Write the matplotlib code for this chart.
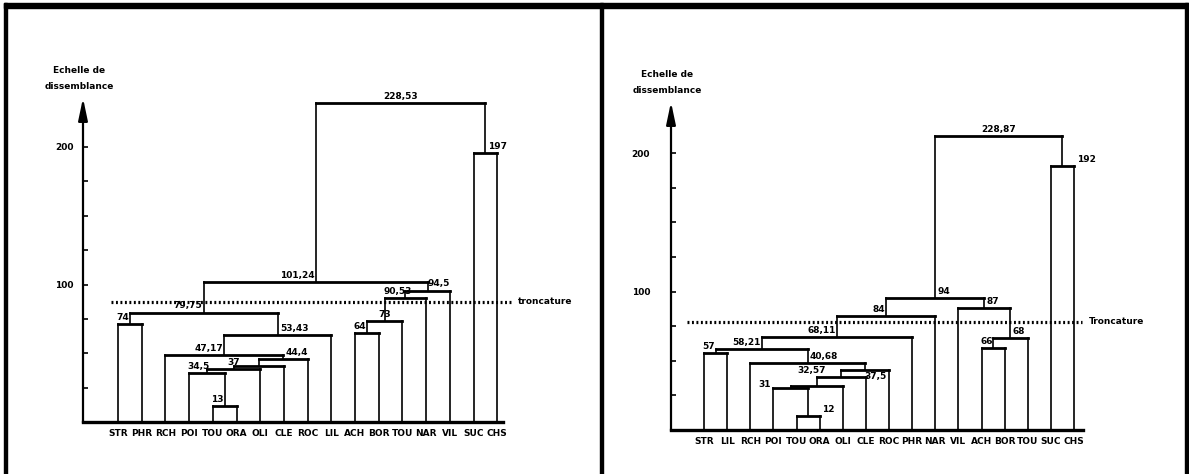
"""
Two hierarchical clustering dendrograms (scanned figure, French).
"""

import matplotlib.pyplot as plt
from matplotlib.patches import Rectangle

W, H = 1189, 474

# ---- left dendrogram -------------------------------------------------------
left_leaves = ["STR", "PHR", "RCH", "POI", "TOU", "ORA", "OLI", "CLE", "ROC",
               "LIL", "ACH", "BOR", "TOU", "NAR", "VIL", "SUC", "CHS"]
# merges refer to leaves (0..16) or to earlier merges (17, 18, ...)
left_merges = [(4, 5), (3, 17), (18, 6), (19, 7), (20, 8), (2, 21), (22, 9),
               (0, 1), (24, 23), (10, 11), (26, 12), (27, 13), (28, 14),
               (25, 29), (15, 16), (30, 31)]
left_heights = [11.7, 35.8, 38.7, 41.0, 46.0, 48.9, 63.5, 71.5, 79.6,
                65.0, 73.7, 90.0, 95.6, 101.5, 195.6, 232.0]
left_labels = ["13", "34,5", "37", "", "44,4", "47,17", "53,43", "74", "79,75",
               "64", "73", "90,53", "94,5", "101,24", "197", "228,53"]
left_cut = 87.3

# ---- right dendrogram ------------------------------------------------------
right_leaves = ["STR", "LIL", "RCH", "POI", "TOU", "ORA", "OLI", "CLE", "ROC",
                "PHR", "NAR", "VIL", "ACH", "BOR", "TOU", "SUC", "CHS"]
right_merges = [(4, 5), (3, 17), (18, 6), (19, 7), (20, 8), (2, 21), (0, 1),
                (23, 22), (24, 9), (25, 10), (12, 13), (27, 14), (11, 28),
                (26, 29), (15, 16), (30, 31)]
right_heights = [10.1, 30.5, 31.8, 38.0, 43.3, 48.4, 55.6, 58.5, 67.0,
                 82.3, 59.2, 66.4, 88.0, 95.3, 190.6, 212.0]
right_labels = ["12", "31", "", "32,57", "37,5", "40,68", "57", "58,21",
                "68,11", "84", "66", "68", "87", "94", "192", "228,87"]
right_cut = 78.0

axis_ticks = [25, 50, 75, 100, 125, 150, 175, 200]
axis_ticklabels = ["", "", "", "100", "", "", "", "200"]

# where each node label sits relative to its link (style only)
left_label_pos = ["l", "l", "c", "", "ri", "nl", "nr", "l", "nl",
                  "l", "c", "l", "ri", "nl", "re", "c"]
right_label_pos = ["ro", "lo", "", "lc", "rb", "nr", "l", "nl", "nl",
                   "nl", "l", "nr", "nr", "nr", "ro", "c"]

plt.rcParams["font.family"] = ["Liberation Sans Narrow", "DejaVu Sans"]
plt.rcParams["font.weight"] = "bold"

LABEL_STYLE = {
    "l": dict(ha="left", va="bottom", dx=-1, dy=1.5, at="left"),
    "lo": dict(ha="right", va="center", dx=-2, dy=2, at="left"),
    "lc": dict(ha="center", va="bottom", dx=-4, dy=1.5, at="left"),
    "c": dict(ha="center", va="bottom", dx=0, dy=1.5, at="node"),
    "nl": dict(ha="right", va="bottom", dx=-1, dy=1.5, at="node"),
    "nr": dict(ha="left", va="bottom", dx=1.5, dy=1.5, at="node"),
    "ri": dict(ha="right", va="bottom", dx=0, dy=1.5, at="right"),
    "re": dict(ha="center", va="bottom", dx=0, dy=1.5, at="right"),
    "ro": dict(ha="left", va="bottom", dx=2, dy=1.5, at="right"),
    "rb": dict(ha="right", va="top", dx=-2, dy=-1.5, at="right"),
}


def draw_panel(fig, box, leaf_px, px_per_unit, leaves, merges, heights,
               labels, label_pos, cut, cut_text, cut_span, tick_pad):
    x0, x1, ybase, ytop = box
    first, step = leaf_px
    ymax = (ybase - ytop) / px_per_unit
    ax = fig.add_axes([x0 / W, 1 - ybase / H, (x1 - x0) / W, (ybase - ytop) / H])
    xmin = (x0 - first) / step
    ax.set_xlim(xmin, (x1 - first) / step)
    ax.set_ylim(0, ymax)
    ax.patch.set_alpha(0)

    for side in ("top", "right"):
        ax.spines[side].set_visible(False)
    ax.spines["left"].set_linewidth(1.6)
    ax.spines["left"].set_bounds(0, ymax - 10)
    ax.spines["bottom"].set_linewidth(2.4)
    ax.annotate("", xy=(xmin, ymax), xytext=(xmin, ymax - 14),
                arrowprops=dict(arrowstyle="-|>,head_length=0.95,head_width=0.2",
                                color="k", lw=1.6, mutation_scale=14,
                                shrinkA=0, shrinkB=0),
                annotation_clip=False)
    ax.annotate("Echelle de\ndissemblance", xy=(xmin, ymax), xytext=(-3, 5),
                textcoords="offset points", ha="center", va="bottom",
                fontsize=6.5, linespacing=2.0, annotation_clip=False)

    ax.set_yticks(axis_ticks)
    ax.set_yticklabels(axis_ticklabels)
    ax.tick_params(axis="y", direction="in", length=3.5, width=1.2,
                   labelsize=6.5, pad=tick_pad)
    ax.set_xticks(range(len(leaves)))
    ax.set_xticklabels(leaves)
    ax.tick_params(axis="x", length=0, labelsize=6.5, pad=5)

    # links
    n = len(leaves)
    pos = {i: (float(i), 0.0) for i in range(n)}
    for k, ((a, b), h) in enumerate(zip(merges, heights)):
        xa, ya = pos[a]
        xb, yb = pos[b]
        ax.plot([xa, xa], [ya, h], color="k", lw=1.2, clip_on=False)
        ax.plot([xb, xb], [yb, h], color="k", lw=1.2, clip_on=False)
        ax.plot([xa, xb], [h, h], color="k", lw=2.0, clip_on=False,
                solid_capstyle="projecting")
        pos[n + k] = ((xa + xb) / 2, h)

        text = labels[k]
        if not text:
            continue
        st = LABEL_STYLE[label_pos[k]]
        xs = {"left": min(xa, xb), "right": max(xa, xb), "node": pos[n + k][0]}
        ax.annotate(text, xy=(xs[st["at"]], h), xytext=(st["dx"], st["dy"]),
                    textcoords="offset points", ha=st["ha"], va=st["va"],
                    fontsize=6.5, annotation_clip=False)

    # cut level
    ax.plot(cut_span, [cut, cut], color="k", lw=2.3, ls=(0, (0.6, 0.8)),
            clip_on=False)
    ax.annotate(cut_text, xy=(cut_span[1], cut), xytext=(5, 0),
                textcoords="offset points", ha="left", va="center",
                fontsize=6.5, annotation_clip=False)
    return ax


fig = plt.figure(figsize=(W / 100, H / 100), dpi=100)

# page frame of the scan
bg = fig.add_axes([0, 0, 1, 1])
bg.set_xlim(0, W)
bg.set_ylim(H, 0)
bg.axis("off")
bg.add_patch(Rectangle((4, 3), W - 4, 5, color="k"))
for fx in (4, 600, 1185):
    bg.add_patch(Rectangle((fx, 3), 3, H, color="k"))

draw_panel(fig, (83, 503, 422, 98), (118, 23.7), 1.375,
           left_leaves, left_merges, left_heights, left_labels, left_label_pos,
           left_cut, "troncature", [-0.3, 16.58], 7)
draw_panel(fig, (671, 1083, 430, 102), (704, 23.125), 1.385,
           right_leaves, right_merges, right_heights, right_labels,
           right_label_pos, right_cut, "Troncature", [-0.74, 16.35], 15)

fig.savefig("out.png", dpi=100)
